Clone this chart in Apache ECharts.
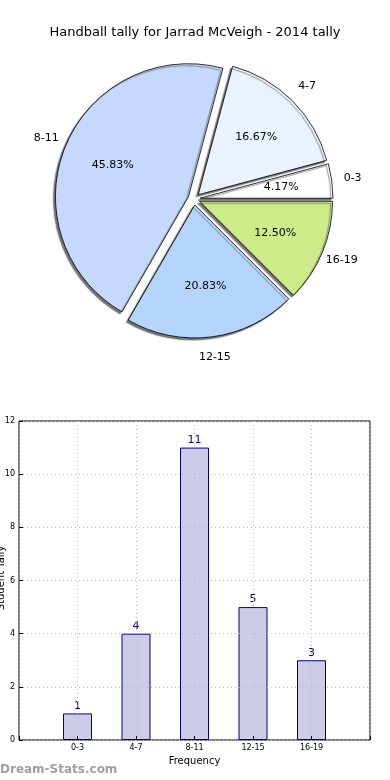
<!DOCTYPE html>
<html>
<head>
<meta charset="utf-8">
<script src="https://cdn.jsdelivr.net/npm/echarts@6/dist/echarts.min.js"></script>
<style>
html,body{margin:0;padding:0;background:#fff;}
#c{width:390px;height:780px;}
</style>
</head>
<body>
<div id="c"></div>
<script>
var titleText = 'Handball tally for Jarrad McVeigh - 2014 tally';
var categories = ['0-3', '4-7', '8-11', '12-15', '16-19'];
var counts = [1, 4, 11, 5, 3];
var sliceColors = ['#ffffff', '#ebf2ff', '#c5d9ff', '#b5d5ff', '#ceeb8a'];
var yTicks = [0, 2, 4, 6, 8, 10, 12];
var yName = 'Student Tally';

var FONT = 'DejaVu Sans';
var chart = echarts.init(document.getElementById('c'), null, {renderer: 'canvas'});

function pieData(withStyle) {
  return categories.map(function (c, i) {
    var d = {name: c, value: counts[i], selected: true};
    if (withStyle) {
      d.itemStyle = {color: sliceColors[i]};
    } else {
      d.itemStyle = {color: 'rgba(0,0,0,0)', borderWidth: 0};
    }
    return d;
  });
}

var pieCommon = {
  type: 'pie',
  center: [194, 199],
  startAngle: 0,
  clockwise: false,
  selectedMode: 'multiple',
  selectedOffset: 6,
  avoidLabelOverlap: false,
  emphasis: {disabled: true},
  animation: false,
  minAngle: 0
};

var xData = [''].concat(categories).concat(['']);
var barData = ['-'].concat(counts).concat(['-']);

var option = {
  animation: false,
  backgroundColor: '#fff',
  title: {
    text: titleText,
    left: 'center',
    top: 21,
    textStyle: {fontFamily: FONT, fontSize: 13, fontWeight: 'normal', color: '#000'}
  },
  grid: {
    left: 19, right: 20, top: 421, bottom: 40,
    containLabel: false,
    outerBoundsMode: 'none',
    show: true, borderColor: '#000', borderWidth: 1, backgroundColor: '#fff'
  },
  xAxis: {
    type: 'category',
    z: 3,
    data: xData,
    boundaryGap: false,
    name: 'Frequency',
    nameLocation: 'middle',
    nameGap: 16,
    nameTextStyle: {fontFamily: FONT, fontSize: 10, color: '#000'},
    axisLine: {show: false},
    axisTick: {show: true, inside: true, length: 4, lineStyle: {color: '#000'}},
    axisLabel: {fontFamily: FONT, fontSize: 8, color: '#000', margin: 4, interval: 0},
    splitLine: {show: true, lineStyle: {color: '#bbb', type: [1, 3], width: 1}}
  },
  yAxis: {
    type: 'value',
    z: 3,
    min: yTicks[0],
    max: yTicks[yTicks.length - 1],
    interval: 2,
    axisLine: {show: false},
    axisTick: {show: true, inside: true, length: 4, lineStyle: {color: '#000'}},
    axisLabel: {fontFamily: FONT, fontSize: 8, color: '#000', margin: 4},
    splitLine: {show: true, lineStyle: {color: '#bbb', type: [1, 3], width: 1}}
  },
  series: [
    Object.assign({}, pieCommon, {
      name: 'slices',
      radius: [0, 133],
      data: pieData(true),
      label: {show: false},
      labelLine: {show: false},
      itemStyle: {
        borderColor: '#000', borderWidth: 0.8,
        shadowColor: 'rgba(90,90,90,0.85)', shadowBlur: 1, shadowOffsetX: -2, shadowOffsetY: 2
      }
    }),
    Object.assign({}, pieCommon, {
      name: 'pct',
      radius: [70, 88],
      silent: true,
      data: pieData(false),
      label: {
        show: true, position: 'inside', rotate: 0,
        fontFamily: FONT, fontSize: 11, color: '#000',
        formatter: function (p) { return p.percent.toFixed(2) + '%'; }
      },
      labelLine: {show: false}
    }),
    Object.assign({}, pieCommon, {
      name: 'names',
      radius: [142, 160],
      silent: true,
      data: pieData(false),
      label: {
        show: true, position: 'inside', rotate: 0,
        fontFamily: FONT, fontSize: 11, color: '#000',
        formatter: '{b}'
      },
      labelLine: {show: false}
    }),
    {
      type: 'bar',
      z: 2,
      data: barData,
      barWidth: 29,
      itemStyle: {color: '#ccccE6', borderColor: '#000080', borderWidth: 1},
      label: {show: true, position: 'top', distance: 2, fontFamily: FONT, fontSize: 11, color: '#000080'},
      emphasis: {disabled: true}
    }
  ],
  graphic: [{
    type: 'text',
    x: 1,
    y: 578,
    rotation: Math.PI / 2,
    style: {text: yName, fill: '#000', font: '10px "DejaVu Sans"', align: 'center', verticalAlign: 'middle'}
  }, {
    type: 'text',
    left: 0,
    top: 764,
    style: {text: 'Dream-Stats.com', fill: '#a0a0a0', font: 'bold 12px "DejaVu Sans"'}
  }]
};
chart.setOption(option);
</script>
</body>
</html>
